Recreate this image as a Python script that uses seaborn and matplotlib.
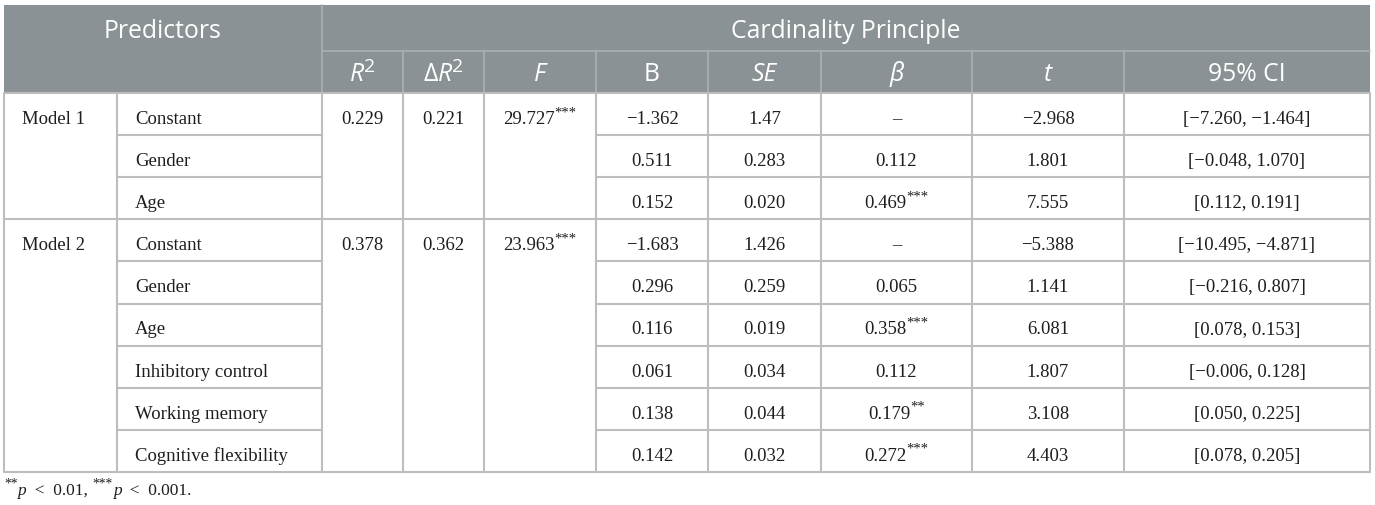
import matplotlib
matplotlib.use("Agg")
import matplotlib.pyplot as plt
from matplotlib.patches import Rectangle
import seaborn as sns

# -----------------------------
# Table data
# -----------------------------
models = ["Model 1", "Model 2"]
predictors = [
    ["Constant", "Gender", "Age"],
    ["Constant", "Gender", "Age", "Inhibitory control", "Working memory", "Cognitive flexibility"],
]
r2 = ["0.229", "0.378"]
delta_r2 = ["0.221", "0.362"]
f_vals = ["29.727", "23.963"]
f_sig = ["***", "***"]

b_vals = ["\u22121.362", "0.511", "0.152", "\u22121.683", "0.296", "0.116", "0.061", "0.138", "0.142"]
se_vals = ["1.47", "0.283", "0.020", "1.426", "0.259", "0.019", "0.034", "0.044", "0.032"]
beta_vals = ["\u2013", "0.112", "0.469", "\u2013", "0.065", "0.358", "0.112", "0.179", "0.272"]
beta_sig = ["", "", "***", "", "", "***", "", "**", "***"]
t_vals = ["\u22122.968", "1.801", "7.555", "\u22125.388", "1.141", "6.081", "1.807", "3.108", "4.403"]
ci_vals = [
    "[\u22127.260, \u22121.464]", "[\u22120.048, 1.070]", "[0.112, 0.191]",
    "[\u221210.495, \u22124.871]", "[\u22120.216, 0.807]", "[0.078, 0.153]",
    "[\u22120.006, 0.128]", "[0.050, 0.225]", "[0.078, 0.205]",
]

group_title = "Cardinality Principle"
left_title = "Predictors"
# header cells as runs: (text, italic, superscript)
sub_headers = [
    [("R", True, False), ("2", False, True)],
    [("\u0394", False, False), ("R", True, False), ("2", False, True)],
    [("F", True, False)],
    [("B", False, False)],
    [("SE", True, False)],
    [("\u03b2", True, False)],
    [("t", True, False)],
    [("95% CI", False, False)],
]
footnote = [("**", False, True), ("p", True, False), ("\u2002<\u20020.01, ", False, False),
            ("***", False, True), ("p", True, False), ("\u2002<\u20020.001.", False, False)]

# -----------------------------
# Style / layout
# -----------------------------
sns.set_style("white")
SANS = ["Open Sans", "DejaVu Sans"]
SERIF = ["Liberation Serif", "DejaVu Serif"]
HEAD_BG = "#8b9295"
HEAD_LINE = "#a9aeb0"
BODY_LINE = "#bdbdbd"
TXT = "#1e1e1e"

cols = [4, 117, 322, 403, 484, 596, 708, 821, 972, 1124, 1370]
top, mid, head_bot = 5, 51, 93
row_h = 42.1
n_rows = sum(len(p) for p in predictors)
body_bot = head_bot + n_rows * row_h

fig = plt.figure(figsize=(13.75, 5.05), dpi=100)
ax = fig.add_axes([0, 0, 1, 1])
ax.set_xlim(0, 1375)
ax.set_ylim(505, 0)
ax.axis("off")
renderer = fig.canvas.get_renderer()

SUP = 0.78


def advance(s, fs, fam, italic):
    kw = dict(fontsize=fs, family=fam, style="italic" if italic else "normal")
    a = ax.text(0, 0, "H" + s + "H", **kw)
    b = ax.text(0, 0, "HH", **kw)
    w = a.get_window_extent(renderer).width - b.get_window_extent(renderer).width
    a.remove()
    b.remove()
    return w


def draw_runs(x, y, runs, fs, fam, color, ha="center", rise=0.42):
    widths = []
    for s, it, sup in runs:
        widths.append(advance(s, fs * SUP if sup else fs, fam, it))
    x0 = x - sum(widths) / 2 if ha == "center" else x
    for (s, it, sup), w in zip(runs, widths):
        size = fs * SUP if sup else fs
        dy = -fs * rise * 100 / 72 if sup else 0
        ax.text(x0, y + dy, s, fontsize=size, family=fam,
                style="italic" if it else "normal", color=color,
                ha="left", va="baseline")
        x0 += w


# -----------------------------
# Header
# -----------------------------
ax.add_patch(Rectangle((cols[0], top), cols[-1] - cols[0], head_bot - top,
                       facecolor=HEAD_BG, edgecolor="none"))
ax.plot([cols[2], cols[2]], [top, head_bot], color=HEAD_LINE, lw=1.3)
ax.plot([cols[2], cols[-1]], [mid, mid], color=HEAD_LINE, lw=1.3)
for c in cols[3:-1]:
    ax.plot([c, c], [mid, head_bot], color=HEAD_LINE, lw=1.3)

HFS = 17.8
ax.text((cols[0] + cols[2]) / 2, top + 33, left_title, fontsize=HFS, family=SANS,
        color="white", ha="center", va="baseline")
ax.text((cols[2] + cols[-1]) / 2, top + 33, group_title, fontsize=HFS, family=SANS,
        color="white", ha="center", va="baseline")
for i, runs in enumerate(sub_headers):
    cx = (cols[i + 2] + cols[i + 3]) / 2
    draw_runs(cx, mid + 30, runs, HFS, SANS, "white", rise=0.38)

# -----------------------------
# Body grid
# -----------------------------
row_tops = [head_bot + i * row_h for i in range(n_rows + 1)]
model_starts = [0]
for p in predictors:
    model_starts.append(model_starts[-1] + len(p))

for i, y in enumerate(row_tops):
    if i in model_starts:
        ax.plot([cols[0], cols[-1]], [y, y], color=BODY_LINE, lw=1.5)
    else:
        ax.plot([cols[1], cols[2]], [y, y], color=BODY_LINE, lw=1.5)
        ax.plot([cols[5], cols[-1]], [y, y], color=BODY_LINE, lw=1.5)
for c in cols:
    ax.plot([c, c], [head_bot, body_bot], color=BODY_LINE, lw=1.5)

# -----------------------------
# Body text
# -----------------------------
BFS = 13.5
r = 0
for m, name in enumerate(models):
    y0 = row_tops[model_starts[m]] + 31
    ax.text(cols[0] + 18, y0, name, fontsize=BFS, family=SERIF, color=TXT,
            ha="left", va="baseline")
    draw_runs((cols[2] + cols[3]) / 2, y0, [(r2[m], False, False)], BFS, SERIF, TXT)
    draw_runs((cols[3] + cols[4]) / 2, y0, [(delta_r2[m], False, False)], BFS, SERIF, TXT)
    draw_runs((cols[4] + cols[5]) / 2, y0, [(f_vals[m], False, False), (f_sig[m], False, True)],
              BFS, SERIF, TXT)
    for pred in predictors[m]:
        y = row_tops[r] + 31
        ax.text(cols[1] + 18, y, pred, fontsize=BFS, family=SERIF, color=TXT,
                ha="left", va="baseline")
        cells = [
            [(b_vals[r], False, False)],
            [(se_vals[r], False, False)],
            [(beta_vals[r], False, False), (beta_sig[r], False, True)],
            [(t_vals[r], False, False)],
            [(ci_vals[r], False, False)],
        ]
        for k, runs in enumerate(cells):
            runs = [x for x in runs if x[0]]
            draw_runs((cols[k + 5] + cols[k + 6]) / 2, y, runs, BFS, SERIF, TXT)
        r += 1

# -----------------------------
# Footnote
# -----------------------------
draw_runs(4, 495, footnote, 12.5, SERIF, TXT, ha="left")

plt.savefig("out.png", dpi=100)
